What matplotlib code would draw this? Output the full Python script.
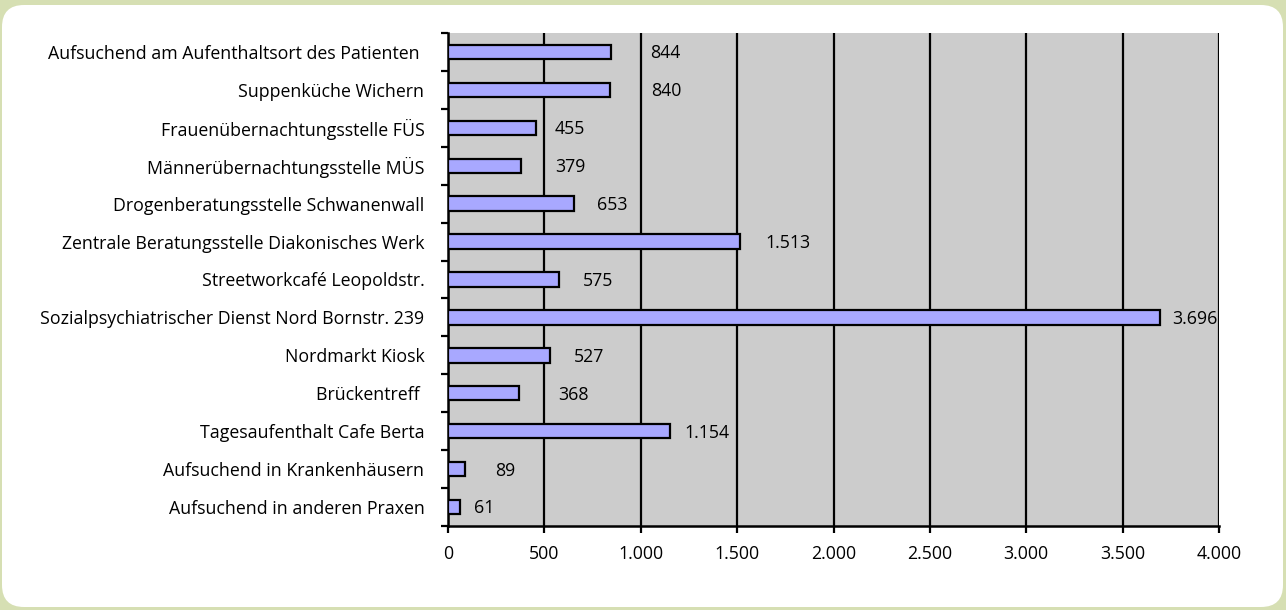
import matplotlib
matplotlib.use("Agg")
import matplotlib.pyplot as plt
from matplotlib.patches import FancyBboxPatch
from matplotlib.transforms import IdentityTransform
from matplotlib.ticker import FuncFormatter, FixedLocator
import numpy as np

categories = [
    "Aufsuchend am Aufenthaltsort des Patienten ",
    "Suppenküche Wichern",
    "Frauenübernachtungsstelle FÜS",
    "Männerübernachtungsstelle MÜS",
    "Drogenberatungsstelle Schwanenwall",
    "Zentrale Beratungsstelle Diakonisches Werk",
    "Streetworkcafé Leopoldstr.",
    "Sozialpsychiatrischer Dienst Nord Bornstr. 239",
    "Nordmarkt Kiosk",
    "Brückentreff ",
    "Tagesaufenthalt Cafe Berta",
    "Aufsuchend in Krankenhäusern",
    "Aufsuchend in anderen Praxen",
]
values = [844, 840, 455, 379, 653, 1513, 575, 3696, 527, 368, 1154, 89, 61]
value_labels = ["844", "840", "455", "379", "653", "1.513", "575", "3.696",
                "527", "368", "1.154", "89", "61"]
# label gap from bar end, in pixels (Excel placed them irregularly)
label_gaps_px = [39, 41, 19, 34, 23, 26, 24, 12, 24, 39, 14, 30, 14]
x_ticks = [0, 500, 1000, 1500, 2000, 2500, 3000, 3500, 4000]

W, H = 1286, 610
fig = plt.figure(figsize=(W / 100, H / 100), dpi=100)
fig.patch.set_facecolor("#d6dfb3")

panel = FancyBboxPatch((2, 3), 1281, 602,
                       boxstyle="round,pad=0,rounding_size=22",
                       transform=IdentityTransform(), facecolor="white",
                       edgecolor="none", zorder=-10)
fig.patches.append(panel)

ax = fig.add_axes([448 / W, (H - 526) / H, (1219 - 448) / W, (526 - 33) / H])
ax.set_zorder(5)
ax.set_facecolor("#cccccc")

font = ["Open Sans", "DejaVu Sans"]
fs = 12.8

y = np.arange(len(categories))
ax.barh(y, values, height=0.38, color="#a8a8ff", edgecolor="black",
        linewidth=1.6, zorder=3)
ax.set_xlim(0, 4000)
ax.set_ylim(len(categories) - 0.5, -0.5)

ax.set_xticks(x_ticks)
ax.xaxis.set_major_formatter(FuncFormatter(lambda v, p: f"{int(v):,}".replace(",", ".")))
ax.set_yticks(y)
ax.set_yticklabels(categories, fontfamily=font, fontsize=fs)
ax.yaxis.set_minor_locator(FixedLocator(np.arange(-0.5, len(categories), 1)))
ax.tick_params(axis="y", which="major", length=0, pad=17)
ax.tick_params(axis="y", which="minor", length=5, width=1.6, direction="out")
ax.tick_params(axis="x", which="major", length=5, width=1.6, direction="out", pad=9)
for lab in ax.get_xticklabels():
    lab.set_fontfamily(font)
    lab.set_fontsize(fs)

ax.grid(axis="x", color="black", linewidth=1.6, zorder=1)
ax.set_axisbelow(True)
for s in ["top", "right"]:
    ax.spines[s].set_visible(False)
for s in ["left", "bottom"]:
    ax.spines[s].set_linewidth(1.8)

for yi, v, lab, g in zip(y, values, value_labels, label_gaps_px):
    ax.annotate(lab, (v, yi), xytext=(g * 0.72, -1), textcoords="offset points",
                va="center", ha="left", fontfamily=font, fontsize=fs, zorder=4)

fig.savefig("out.png", dpi=100, facecolor=fig.get_facecolor())
